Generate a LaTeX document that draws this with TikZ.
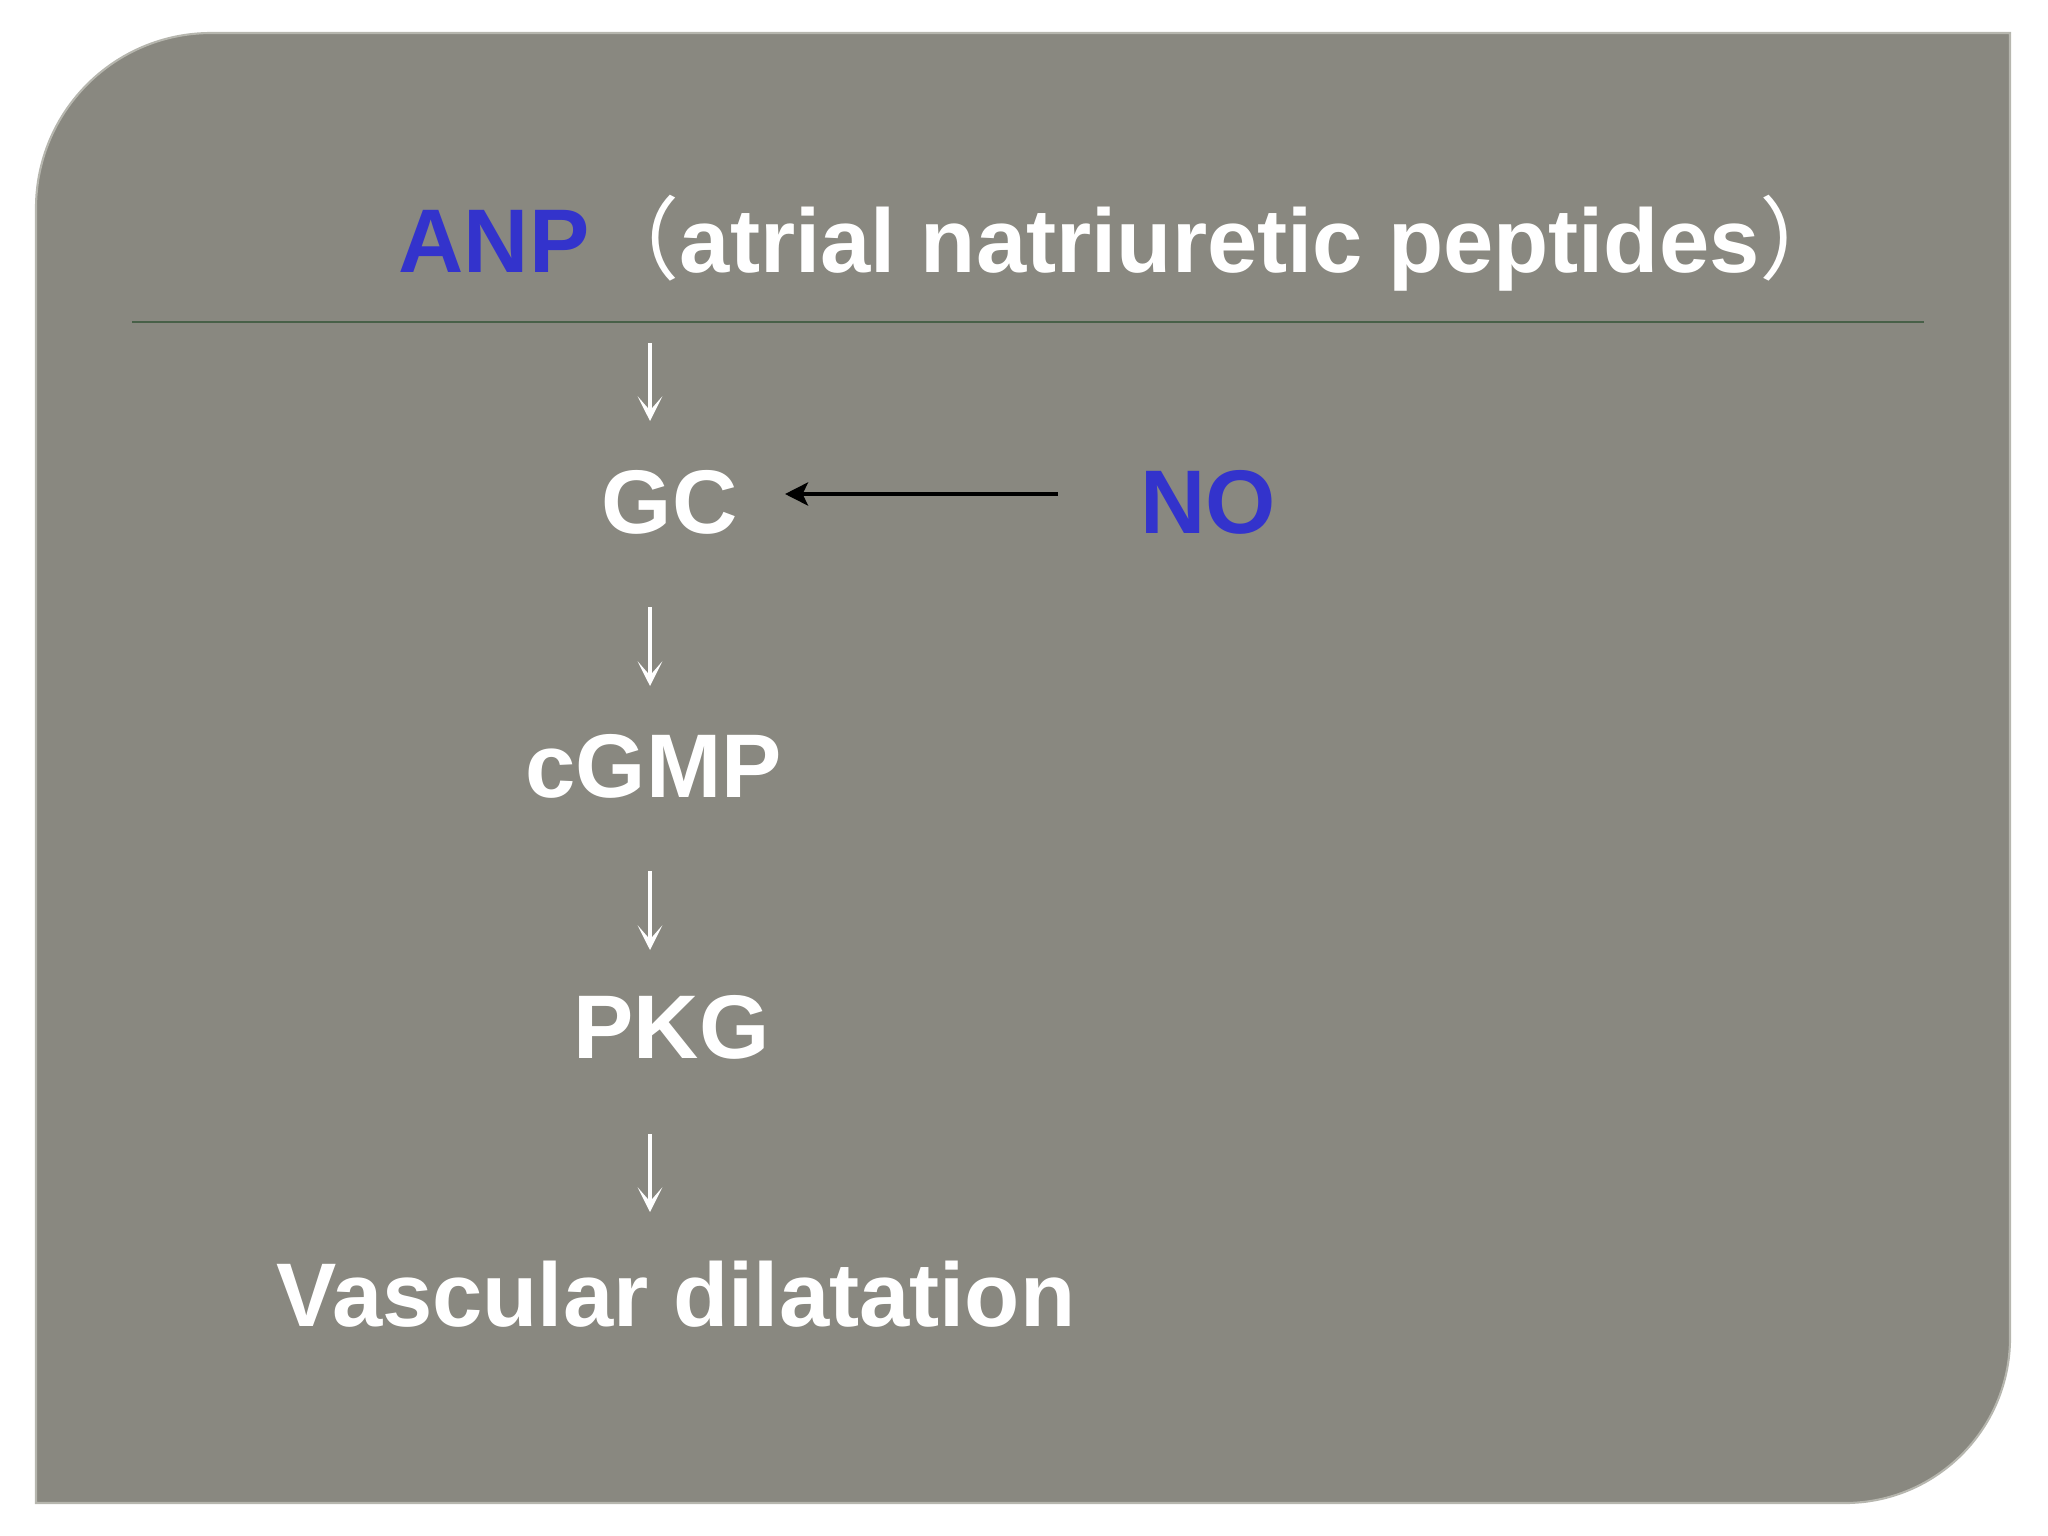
\documentclass[tikz,border=0pt]{standalone}
\usepackage{fontspec}
\setmainfont{Liberation Sans}
\newfontfamily\cjk{Noto Sans CJK SC}
\usetikzlibrary{arrows.meta, positioning}

\definecolor{slidegray}{RGB}{137,136,128}
\definecolor{rimgray}{RGB}{182,182,174}
\definecolor{anpblue}{RGB}{51,51,204}
\definecolor{rulegreen}{RGB}{72,96,72}

\tikzset{
  lbl/.style={anchor=base west, inner sep=0pt, text=white,
    font=\fontsize{25.7}{30}\selectfont\bfseries},
  bluelbl/.style={lbl, text=anpblue},
  downarrow/.style={-{Stealth[length=7pt, width=7pt, inset=4pt]}, white, line width=0.9pt},
  noarrow/.style={-{Stealth[length=6.5pt, width=6.5pt, inset=1.5pt]}, black, line width=1.4pt}
}

\begin{document}
\begin{tikzpicture}[x=0.01cm, y=-0.01cm]
    \useasboundingbox (0, 0) rectangle (2048, 1536);
    % slide panel
    \draw[fill=slidegray, draw=rimgray, line width=0.6pt]
      (36, 1503) [rounded corners=1.75cm]-- (36, 33) [sharp corners]-- (2010, 33)
      [rounded corners=1.65cm]-- (2010, 1503) [sharp corners]-- cycle;
    \draw[rulegreen, line width=0.8pt](132, 322)--(1924, 322);

    % title
    \node[lbl] (anp) at (398, 272){\textcolor{anpblue}{ANP}{\cjk\mdseries （}atrial natriuretic peptides{\cjk\mdseries ）}};

    % pathway
    \node[lbl] (gc) at (601, 533){GC};
    \node[bluelbl] (no) at (1140, 533){NO};
    \node[lbl] (cgmp) at (525, 797){cGMP};
    \node[lbl] (pkg) at (573, 1058){PKG};
    \node[lbl] (vaso) at (276, 1326){Vascular dilatation};

    \coordinate (a1) at (650, 343);
    \coordinate (b1) at (650, 421);
    \coordinate (a2) at (650, 607);
    \coordinate (b2) at (650, 686);
    \coordinate (a3) at (650, 871);
    \coordinate (b3) at (650, 950);
    \coordinate (a4) at (650, 1134);
    \coordinate (b4) at (650, 1212);
    \draw[downarrow](a1)--(b1);
    \draw[downarrow](a2)--(b2);
    \draw[downarrow](a3)--(b3);
    \draw[downarrow](a4)--(b4);

    \coordinate (notail) at (1058, 494);
    \coordinate (gchead) at (785, 494);
    \draw[noarrow](notail)--(gchead);
\end{tikzpicture}
\end{document}
